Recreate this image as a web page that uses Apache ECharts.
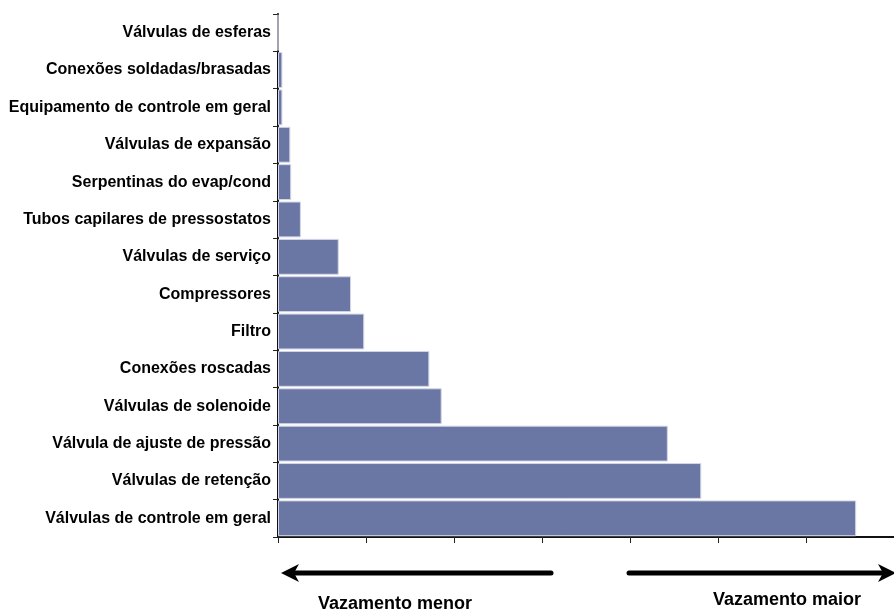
<!DOCTYPE html>
<html>
<head>
<meta charset="utf-8">
<script src="https://cdn.jsdelivr.net/npm/echarts@6/dist/echarts.min.js"></script>
<style>
  html, body { margin: 0; padding: 0; background: #ffffff; }
  #chart { width: 894px; height: 614px; }
</style>
</head>
<body>
<div id="chart"></div>
<script>
// Component categories, listed from top to bottom
const categories = [
  'Válvulas de esferas',
  'Conexões soldadas/brasadas',
  'Equipamento de controle em geral',
  'Válvulas de expansão',
  'Serpentinas do evap/cond',
  'Tubos capilares de pressostatos',
  'Válvulas de serviço',
  'Compressores',
  'Filtro',
  'Conexões roscadas',
  'Válvulas de solenoide',
  'Válvula de ajuste de pressão',
  'Válvulas de retenção',
  'Válvulas de controle em geral'
];

// Relative leak level per component (one unit per axis tick)
const leakValues = [0, 0.05, 0.05, 0.14, 0.15, 0.26, 0.69, 0.83, 0.98, 1.72, 1.86, 4.43, 4.81, 6.57];

const leftCaption = 'Vazamento menor';
const rightCaption = 'Vazamento maior';

const chart = echarts.init(document.getElementById('chart'));

const FONT = '"Liberation Sans", Arial, sans-serif';

chart.setOption({
  animation: false,
  grid: { left: 278, top: 14, width: 616, height: 523, containLabel: false },
  xAxis: {
    type: 'value',
    min: 0,
    max: 7,
    interval: 1,
    axisLine: { show: true, lineStyle: { color: '#111111', width: 2 } },
    axisTick: { show: true, length: 6, lineStyle: { color: '#222222', width: 1 } },
    axisLabel: { show: false },
    splitLine: { show: false }
  },
  yAxis: {
    type: 'category',
    inverse: true,
    data: categories,
    axisLine: { show: true, lineStyle: { color: '#111111', width: 2 } },
    axisTick: { show: true, length: 5, lineStyle: { color: '#222222', width: 1 } },
    axisLabel: {
      color: '#000000',
      fontFamily: FONT,
      fontWeight: 'bold',
      fontSize: 16,
      margin: 7
    }
  },
  series: [{
    type: 'bar',
    data: leakValues,
    barCategoryGap: '4%',
    itemStyle: {
      color: '#6a77a4',
      borderColor: '#d3d6e6',
      borderWidth: 1
    }
  }],
  graphic: [
    // "less leakage" arrow pointing left
    {
      type: 'line',
      shape: { x1: 292, y1: 573, x2: 551, y2: 573 },
      style: { stroke: '#000000', lineWidth: 5, lineCap: 'round' }
    },
    {
      type: 'polygon',
      shape: { points: [[281, 573], [299, 564], [294, 573], [299, 582]] },
      style: { fill: '#000000' }
    },
    // "more leakage" arrow pointing right
    {
      type: 'line',
      shape: { x1: 629, y1: 573, x2: 884, y2: 573 },
      style: { stroke: '#000000', lineWidth: 5, lineCap: 'round' }
    },
    {
      type: 'polygon',
      shape: { points: [[896, 573], [878, 564], [883, 573], [878, 582]] },
      style: { fill: '#000000' }
    },
    {
      type: 'text',
      left: 318,
      top: 595,
      style: {
        text: leftCaption,
        fill: '#000000',
        font: 'bold 18px ' + FONT
      }
    },
    {
      type: 'text',
      left: 713,
      top: 591,
      style: {
        text: rightCaption,
        fill: '#000000',
        font: 'bold 18px ' + FONT
      }
    }
  ]
});
</script>
</body>
</html>
